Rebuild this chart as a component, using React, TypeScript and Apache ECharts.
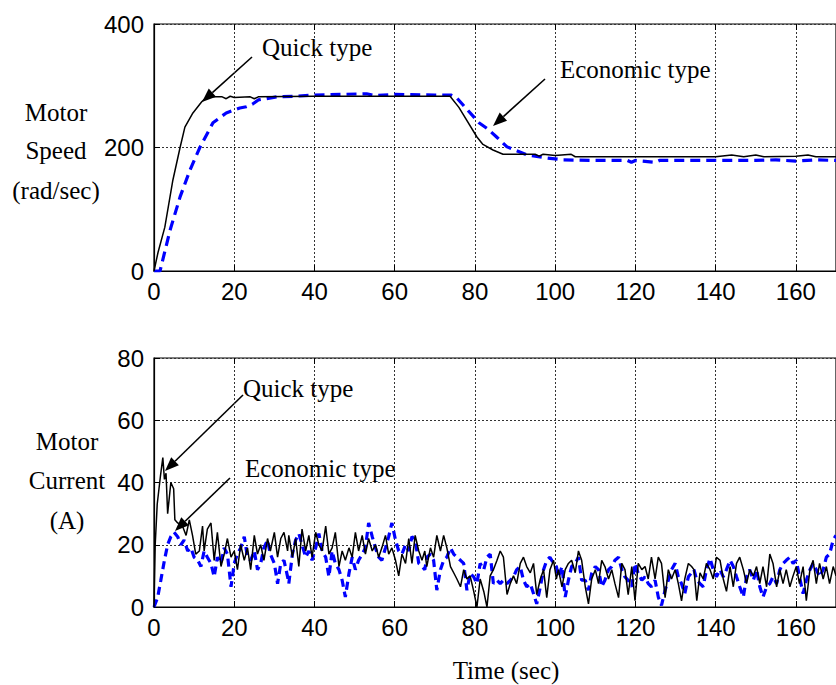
import React, { useEffect, useRef } from "react";
import * as echarts from "echarts";

// ---------- Data ----------
const timeTicks = [0, 20, 40, 60, 80, 100, 120, 140, 160];
const speedTicks = [0, 200, 400];
const currentTicks = [0, 20, 40, 60, 80];

// Motor speed (rad/sec) vs time (sec)
const quickSpeed: [number, number][] = [
  [0, 0], [1, 30], [2.7, 71], [4.7, 147], [6.5, 200], [7.7, 233], [9.7, 256], [11.9, 274], [13.2, 282],
  [17, 282], [18, 279], [19, 283], [20, 281], [24, 282], [25, 279], [26, 282], [40, 283], [60, 283],
  [73.8, 283], [76, 265], [80.5, 217], [82, 205], [84.5, 196], [87, 189], [95, 189], [96, 186], [97, 189],
  [100, 187], [104, 189], [105, 185], [140, 185], [144, 188], [147, 185], [150, 188], [152, 185],
  [160, 186], [163, 188], [165, 185], [170, 185],
];
const economicSpeed: [number, number][] = [
  [0, 0], [1.5, 0], [4, 66], [6.5, 120], [9, 164], [11.5, 201], [14.7, 240], [18, 256], [21.4, 264],
  [23, 266], [24.5, 270], [26, 277], [30.6, 282], [35, 283], [40, 285], [53, 287], [55, 284], [60, 286],
  [70, 285], [74, 285], [75.5, 280], [78, 262], [81, 240], [83, 231], [85.4, 217], [88, 201], [93, 188],
  [98, 183], [102, 180], [110, 179], [118, 179], [119, 176], [120, 179], [125, 176], [126, 179],
  [150, 179], [155, 180], [160, 178], [165, 180], [170, 179],
];

// Motor current (A) vs time (sec)
const quickCurrent: [number, number][] = [
  [0, 0], [0.1, 7.5], [0.3, 20], [0.8, 33], [1.6, 42], [2.2, 48], [2.6, 41], [3, 43], [3.4, 30], [3.8, 35],
  [4.2, 40], [4.9, 38], [5.2, 28], [5.9, 27], [7.1, 26], [8, 23], [8.8, 28], [9.6, 23], [10.4, 17],
  [11.3, 18], [12.1, 26], [12.5, 18], [13.3, 25], [14.2, 27], [15, 15], [15.8, 24], [16.7, 13], [17.5, 17],
  [18.3, 22], [19.2, 16], [20, 18], [20.8, 12], [21.6, 20], [22.5, 15], [23.3, 19], [24.1, 12], [25, 23],
  [25.8, 17], [26.6, 20], [27.4, 15], [28.3, 22], [29, 18], [30, 24], [30.8, 16], [31.6, 22], [32.4, 24],
  [33.3, 18], [33.6, 23], [34.5, 16], [35.3, 22], [36.1, 13], [36.9, 25], [37.8, 18], [38.6, 23],
  [39.4, 16], [40.3, 24], [41.1, 20], [41.9, 18], [42.8, 26], [43.6, 17], [44.4, 19], [45.2, 24],
  [46.1, 13], [46.9, 18], [47.7, 15], [48.6, 19], [49.4, 16], [50.2, 24], [51, 18], [51.9, 23], [52.7, 17],
  [53.5, 22], [54.4, 18], [55.2, 20], [56, 16], [56.8, 19], [57.7, 23], [58.5, 17], [59.3, 19], [60.2, 15],
  [61, 10], [61.8, 17], [62.7, 14], [63.5, 22], [64.3, 14], [65.1, 23], [66, 18], [66.8, 15], [67.5, 18],
  [68, 13], [68.9, 19], [69.7, 16], [70.5, 23], [71.4, 18], [72.2, 23], [73, 19], [73.9, 13], [74.7, 11],
  [75.5, 9], [76.4, 6.5], [77.2, 12], [78, 9], [78.8, 10], [79.7, 5], [80.5, 0], [81.3, 9], [82.2, 5],
  [83, 0], [83.8, 10], [84.6, 12], [85.5, 15], [86.3, 18], [87.1, 16], [88, 4], [88.8, 7.5], [89.6, 10],
  [90.4, 7.5], [91.3, 14], [92.1, 16], [92.9, 13], [93.8, 11], [94.6, 14], [95.4, 4], [96.3, 9], [97.1, 12],
  [97.9, 3], [98.7, 12], [99.6, 15], [100.3, 9], [100.8, 12], [101.7, 6.5], [102.5, 12], [103.3, 14],
  [104.1, 15], [105, 11], [105.8, 18], [106.6, 15], [107.5, 6.5], [108.3, 1], [109.1, 9], [110, 12],
  [110.8, 7.5], [111.6, 15], [112.4, 13], [113.3, 9], [114.1, 12], [114.9, 7.5], [115.8, 3], [116.6, 14],
  [117.4, 12], [118.2, 4], [119.1, 13], [119.9, 2], [120.7, 14], [121.6, 12], [122.4, 13], [123.2, 9],
  [124, 16], [124.9, 9], [125.7, 16], [126.5, 14], [127.4, 3], [128.2, 12], [129, 9], [129.9, 12],
  [130.7, 7.5], [131.5, 2], [132.3, 9], [133.2, 14], [134, 13], [134.6, 12], [135.3, 2], [136.1, 11],
  [136.9, 9], [137.7, 14], [138.6, 12], [139.4, 9], [140.2, 16], [141.1, 15], [141.9, 9], [142.7, 5],
  [143.6, 13], [144.4, 6.5], [145.2, 14], [146, 16], [146.9, 12], [147.7, 7.5], [148.5, 12], [149.4, 10],
  [150.2, 13], [151, 7.5], [151.8, 13], [152.7, 6.5], [153.5, 17], [154.3, 14], [155.2, 6.5], [156, 12],
  [156.8, 7.5], [157.6, 12], [158.5, 6.5], [159.3, 10], [160.1, 13], [160.9, 7.5], [161.8, 13], [162.6, 2],
  [163.5, 12], [164.3, 15], [165.1, 7.5], [165.9, 14], [166.8, 9], [167.6, 13], [168.4, 7.5], [169.3, 13],
  [170, 10],
];
const economicCurrent: [number, number][] = [
  [0, 0], [0.9, 3], [1.7, 8.6], [2.6, 15], [3.4, 20], [4.2, 22.6], [5, 24], [5.9, 22.6], [6.7, 20],
  [7.5, 21.5], [8.4, 18], [9.2, 19], [10, 16], [10.9, 15], [11.7, 13], [12.5, 18], [13.3, 16], [14.2, 14],
  [15, 9.7], [15.8, 16], [16.7, 14], [17.5, 19], [18.3, 17], [19.2, 6.5], [20, 14], [20.8, 17], [21.6, 19],
  [22.5, 22.6], [23.3, 16], [24.1, 15], [25, 18], [25.8, 12], [26.6, 14], [27.4, 19], [28.3, 21.5], [29, 17],
  [30, 14], [30.8, 7.5], [31.6, 14], [32.4, 15], [33.3, 9.7], [33.6, 7.5], [34.5, 17], [35.3, 21.5],
  [36.1, 23.6], [36.9, 20], [37.8, 16], [38.6, 18], [39.4, 15], [40.3, 19], [41.1, 23.6], [41.9, 18],
  [42.8, 16], [43.6, 9.7], [44.4, 18], [45.2, 14], [46.1, 12], [46.9, 8.6], [47.7, 3.2], [48.6, 10.8],
  [49.4, 16], [50.2, 12], [51, 15], [51.9, 17], [52.7, 19], [53.5, 27], [54.4, 22.6], [55.2, 19], [56, 16],
  [56.8, 15], [57.7, 19], [58.5, 22.6], [59.3, 27], [60.2, 21.5], [61, 18], [61.8, 17], [62.7, 20],
  [63.5, 18], [64.3, 22.6], [65.1, 21.5], [66, 14], [66.8, 13], [67.5, 12], [68, 16], [68.9, 17],
  [69.7, 15], [70.5, 5.4], [71.4, 12], [72.2, 15], [73, 16], [73.9, 19], [74.7, 17], [75.5, 16], [76.4, 15],
  [77.2, 14], [78, 5.4], [78.8, 10.8], [79.7, 9.7], [80.5, 7.5], [81.3, 14], [82.2, 12], [83, 16],
  [83.8, 17], [84.6, 7.5], [85.5, 8.6], [86.3, 7.5], [87.1, 8.6], [88, 7.5], [88.8, 8.6], [89.6, 9.7],
  [90.4, 12], [91.3, 13], [92.1, 8.6], [92.9, 6.5], [93.8, 7.5], [94.6, 4.3], [95.4, 1], [96.3, 6.5],
  [97.1, 12], [97.9, 15], [98.7, 16], [99.6, 14], [100.3, 13], [100.8, 9.7], [101.7, 13], [102.5, 3.2],
  [103.3, 8.6], [104.1, 13], [105, 14], [105.8, 16], [106.6, 8.6], [107.5, 8.6], [108.3, 5.4],
  [109.1, 10.8], [110, 13], [110.8, 12], [111.6, 6.5], [112.4, 8.6], [113.3, 12], [114.1, 13], [114.9, 15],
  [115.8, 16], [116.6, 12], [117.4, 9.7], [118.2, 8.6], [119.1, 6.5], [119.9, 14], [120.7, 10.8],
  [121.6, 8.6], [122.4, 9.7], [123.2, 7.5], [124, 6.5], [124.9, 8.6], [125.7, 3.2], [126.5, 0.5],
  [127.4, 5.4], [128.2, 8.6], [129, 12], [129.9, 14], [130.7, 9.7], [131.5, 7.5], [132.3, 4.3],
  [133.2, 9.7], [134, 11], [134.6, 12], [135.3, 8.6], [136.1, 7.5], [136.9, 6.5], [137.7, 12],
  [138.6, 15.6], [139.4, 12], [140.2, 9.7], [141.1, 12], [141.9, 9.7], [142.7, 12], [143.6, 15],
  [144.4, 13], [145.2, 9.7], [146, 6.5], [146.9, 3.2], [147.7, 9.7], [148.5, 12], [149.4, 8.6],
  [150.2, 12], [151, 6.5], [151.8, 3.2], [152.7, 6.5], [153.5, 7.5], [154.3, 9.7], [155.2, 7.5], [156, 12],
  [156.8, 14], [157.6, 15], [158.5, 16], [159.3, 14], [160.1, 15], [160.9, 9.7], [161.8, 4.3], [162.6, 8.6],
  [163.5, 12], [164.3, 14], [165.1, 12], [165.9, 9.7], [166.8, 12], [167.6, 16], [168.4, 17],
  [169.3, 21.5], [170, 23],
];

const speedTitle = ["Motor", "Speed", "(rad/sec)"];
const currentTitle = ["Motor", "Current", "(A)"];
const xTitle = "Time (sec)";
const quickLabel = "Quick type";
const economicLabel = "Economic type";

// ---------- Styling ----------
const SANS = "'Liberation Sans', Arial, sans-serif";
const SERIF = "'Liberation Serif', 'Times New Roman', serif";
const TICK_FS = 24;
const TEXT_FS = 25;

function arrow(x1: number, y1: number, x2: number, y2: number) {
  const dx = x2 - x1;
  const dy = y2 - y1;
  const len = Math.sqrt(dx * dx + dy * dy);
  const ux = dx / len;
  const uy = dy / len;
  const hl = 14;
  const hw = 5.5;
  const bx = x2 - hl * ux;
  const by = y2 - hl * uy;
  const nx = -uy;
  const ny = ux;
  return [
    {
      type: "line",
      shape: { x1, y1, x2: bx, y2: by },
      style: { stroke: "#000", lineWidth: 1.6 },
      silent: true,
    },
    {
      type: "polygon",
      shape: {
        points: [
          [x2, y2],
          [bx + hw * nx, by + hw * ny],
          [bx - hw * nx, by - hw * ny],
        ],
      },
      style: { fill: "#000" },
      silent: true,
    },
  ];
}

function text(str: string, x: number, y: number, align: string = "left") {
  return {
    type: "text",
    x,
    y,
    silent: true,
    style: {
      text: str,
      font: `${TEXT_FS}px ${SERIF}`,
      fill: "#000",
      align,
      verticalAlign: "middle",
    },
  };
}

function xAxisCfg(gridIndex: number, top: boolean) {
  return {
    type: "value",
    gridIndex,
    position: top ? "top" : "bottom",
    min: 0,
    max: 170,
    interval: 20,
    axisLine: { show: !top, onZero: false, lineStyle: { color: "#000", width: 1.2 } },
    axisTick: { show: true, inside: true, length: 6, lineStyle: { color: "#000" } },
    axisLabel: {
      show: !top,
      fontSize: TICK_FS,
      fontFamily: SANS,
      color: "#000",
      margin: 8,
      showMaxLabel: false,
      formatter: (v: number) => (timeTicks.includes(v) ? String(v) : ""),
    },
    splitLine: {
      show: !top,
      lineStyle: { color: "#333", type: [2, 2], width: 1 },
    },
  };
}

function yAxisCfg(gridIndex: number, max: number, interval: number, ticks: number[]) {
  return {
    type: "value",
    gridIndex,
    min: 0,
    max,
    interval,
    axisLine: { show: true, lineStyle: { color: "#000", width: 1.2 } },
    axisTick: { show: true, inside: true, length: 6, lineStyle: { color: "#000" } },
    axisLabel: {
      fontSize: TICK_FS,
      fontFamily: SANS,
      color: "#000",
      margin: 10,
      formatter: (v: number) => (ticks.includes(v) ? String(v) : ""),
    },
    splitLine: { show: true, lineStyle: { color: "#333", type: [2, 2], width: 1 } },
  };
}

export default function App() {
  const ref = useRef<HTMLDivElement>(null);

  useEffect(() => {
    if (!ref.current) return;
    const chart = echarts.init(ref.current, null, { renderer: "svg" });

    const option: any = {
      animation: false,
      backgroundColor: "#fff",
      grid: [
        { left: 154, right: -1, top: 24, height: 247, show: true, borderColor: "#000", borderWidth: 1.2, backgroundColor: "transparent" },
        { left: 154, right: -1, top: 358, height: 249, show: true, borderColor: "#000", borderWidth: 1.2, backgroundColor: "transparent" },
      ],
      xAxis: [xAxisCfg(0, false), xAxisCfg(1, false), xAxisCfg(0, true), xAxisCfg(1, true)],
      yAxis: [yAxisCfg(0, 400, 200, speedTicks), yAxisCfg(1, 80, 20, currentTicks)],
      series: [
        {
          name: "Quick type speed",
          type: "line",
          xAxisIndex: 0,
          yAxisIndex: 0,
          data: quickSpeed,
          showSymbol: false,
          lineStyle: { color: "#000", width: 1.5 },
          z: 3,
        },
        {
          name: "Economic type speed",
          type: "line",
          xAxisIndex: 0,
          yAxisIndex: 0,
          data: economicSpeed,
          showSymbol: false,
          lineStyle: { color: "#0000ff", width: 3.2, type: [10, 6] },
          z: 2,
        },
        {
          name: "Quick type current",
          type: "line",
          xAxisIndex: 1,
          yAxisIndex: 1,
          data: quickCurrent,
          showSymbol: false,
          lineStyle: { color: "#000", width: 1.5 },
          z: 3,
        },
        {
          name: "Economic type current",
          type: "line",
          xAxisIndex: 1,
          yAxisIndex: 1,
          data: economicCurrent,
          showSymbol: false,
          lineStyle: { color: "#0000ff", width: 3.2, type: [8, 5] },
          z: 2,
        },
      ],
      graphic: [
        text(speedTitle[0], 56, 112, "center"),
        text(speedTitle[1], 56, 150, "center"),
        text(speedTitle[2], 56, 190, "center"),
        text(currentTitle[0], 67, 441, "center"),
        text(currentTitle[1], 67, 480, "center"),
        text(currentTitle[2], 67, 520, "center"),
        text(xTitle, 506, 670, "center"),
        text(quickLabel, 262, 47),
        text(economicLabel, 560, 69),
        text(quickLabel, 243, 388),
        text(economicLabel, 245, 468),
        ...arrow(252, 57, 202, 102),
        ...arrow(545, 79, 493, 126),
        ...arrow(243, 395, 165, 471),
        ...arrow(230, 478, 175, 531),
      ],
    };

    chart.setOption(option);
    return () => chart.dispose();
  }, []);

  return (
    <div
      ref={ref}
      style={{ position: "absolute", left: 0, top: 0, width: 836, height: 685, background: "#fff" }}
    />
  );
}
